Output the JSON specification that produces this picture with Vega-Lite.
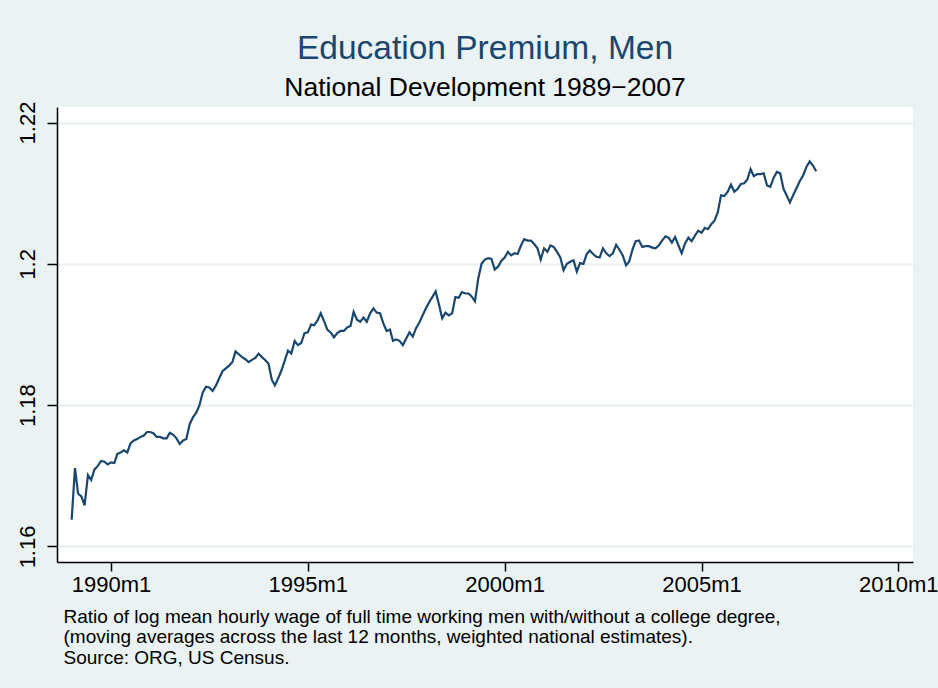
{
  "$schema": "https://vega.github.io/schema/vega-lite/v6.json",
  "width": 856,
  "height": 455,
  "autosize": {"type": "none"},
  "padding": {"left": 57, "top": 107, "right": 25, "bottom": 126},
  "background": "#EAF2F3",
  "config": {
    "view": {"fill": "white", "stroke": null},
    "font": "Liberation Sans"
  },
  "title": {
    "text": "Education Premium, Men",
    "subtitle": "National Development 1989\u22122007",
    "font": "Liberation Sans",
    "subtitleFont": "Liberation Sans",
    "fontSize": 33.5,
    "subtitleFontSize": 26.5,
    "fontWeight": "normal",
    "color": "#1a476f",
    "subtitleColor": "#000000",
    "anchor": "middle",
    "offset": -1,
    "subtitlePadding": 8
  },
  "data": {
    "values": [
      {"date": "1989-01", "value": 1.1638}, {"date": "1989-02", "value": 1.1711}, {"date": "1989-03", "value": 1.1675}, {"date": "1989-04", "value": 1.1671}, {"date": "1989-05", "value": 1.1658}, {"date": "1989-06", "value": 1.1701}, {"date": "1989-07", "value": 1.1694}, {"date": "1989-08", "value": 1.1709}, {"date": "1989-09", "value": 1.1714}, {"date": "1989-10", "value": 1.1721}, {"date": "1989-11", "value": 1.1720}, {"date": "1989-12", "value": 1.1716},
      {"date": "1990-01", "value": 1.1719}, {"date": "1990-02", "value": 1.1718}, {"date": "1990-03", "value": 1.1731}, {"date": "1990-04", "value": 1.1733}, {"date": "1990-05", "value": 1.1736}, {"date": "1990-06", "value": 1.1733}, {"date": "1990-07", "value": 1.1746}, {"date": "1990-08", "value": 1.1750}, {"date": "1990-09", "value": 1.1752}, {"date": "1990-10", "value": 1.1755}, {"date": "1990-11", "value": 1.1757}, {"date": "1990-12", "value": 1.1762},
      {"date": "1991-01", "value": 1.1762}, {"date": "1991-02", "value": 1.1760}, {"date": "1991-03", "value": 1.1755}, {"date": "1991-04", "value": 1.1755}, {"date": "1991-05", "value": 1.1753}, {"date": "1991-06", "value": 1.1753}, {"date": "1991-07", "value": 1.1761}, {"date": "1991-08", "value": 1.1758}, {"date": "1991-09", "value": 1.1753}, {"date": "1991-10", "value": 1.1745}, {"date": "1991-11", "value": 1.1750}, {"date": "1991-12", "value": 1.1752},
      {"date": "1992-01", "value": 1.1773}, {"date": "1992-02", "value": 1.1783}, {"date": "1992-03", "value": 1.1789}, {"date": "1992-04", "value": 1.1800}, {"date": "1992-05", "value": 1.1818}, {"date": "1992-06", "value": 1.1826}, {"date": "1992-07", "value": 1.1825}, {"date": "1992-08", "value": 1.1820}, {"date": "1992-09", "value": 1.1828}, {"date": "1992-10", "value": 1.1838}, {"date": "1992-11", "value": 1.1848}, {"date": "1992-12", "value": 1.1852},
      {"date": "1993-01", "value": 1.1856}, {"date": "1993-02", "value": 1.1861}, {"date": "1993-03", "value": 1.1876}, {"date": "1993-04", "value": 1.1872}, {"date": "1993-05", "value": 1.1868}, {"date": "1993-06", "value": 1.1865}, {"date": "1993-07", "value": 1.1861}, {"date": "1993-08", "value": 1.1864}, {"date": "1993-09", "value": 1.1867}, {"date": "1993-10", "value": 1.1873}, {"date": "1993-11", "value": 1.1868}, {"date": "1993-12", "value": 1.1864},
      {"date": "1994-01", "value": 1.1859}, {"date": "1994-02", "value": 1.1836}, {"date": "1994-03", "value": 1.1828}, {"date": "1994-04", "value": 1.1838}, {"date": "1994-05", "value": 1.1849}, {"date": "1994-06", "value": 1.1863}, {"date": "1994-07", "value": 1.1877}, {"date": "1994-08", "value": 1.1873}, {"date": "1994-09", "value": 1.1891}, {"date": "1994-10", "value": 1.1885}, {"date": "1994-11", "value": 1.1888}, {"date": "1994-12", "value": 1.1902},
      {"date": "1995-01", "value": 1.1903}, {"date": "1995-02", "value": 1.1914}, {"date": "1995-03", "value": 1.1913}, {"date": "1995-04", "value": 1.1920}, {"date": "1995-05", "value": 1.1930}, {"date": "1995-06", "value": 1.1919}, {"date": "1995-07", "value": 1.1907}, {"date": "1995-08", "value": 1.1903}, {"date": "1995-09", "value": 1.1896}, {"date": "1995-10", "value": 1.1902}, {"date": "1995-11", "value": 1.1905}, {"date": "1995-12", "value": 1.1905},
      {"date": "1996-01", "value": 1.1910}, {"date": "1996-02", "value": 1.1912}, {"date": "1996-03", "value": 1.1932}, {"date": "1996-04", "value": 1.1921}, {"date": "1996-05", "value": 1.1918}, {"date": "1996-06", "value": 1.1924}, {"date": "1996-07", "value": 1.1918}, {"date": "1996-08", "value": 1.1930}, {"date": "1996-09", "value": 1.1937}, {"date": "1996-10", "value": 1.1931}, {"date": "1996-11", "value": 1.1930}, {"date": "1996-12", "value": 1.1916},
      {"date": "1997-01", "value": 1.1905}, {"date": "1997-02", "value": 1.1907}, {"date": "1997-03", "value": 1.1891}, {"date": "1997-04", "value": 1.1893}, {"date": "1997-05", "value": 1.1891}, {"date": "1997-06", "value": 1.1885}, {"date": "1997-07", "value": 1.1894}, {"date": "1997-08", "value": 1.1903}, {"date": "1997-09", "value": 1.1897}, {"date": "1997-10", "value": 1.1909}, {"date": "1997-11", "value": 1.1917}, {"date": "1997-12", "value": 1.1927},
      {"date": "1998-01", "value": 1.1937}, {"date": "1998-02", "value": 1.1946}, {"date": "1998-03", "value": 1.1953}, {"date": "1998-04", "value": 1.1961}, {"date": "1998-05", "value": 1.1943}, {"date": "1998-06", "value": 1.1923}, {"date": "1998-07", "value": 1.1931}, {"date": "1998-08", "value": 1.1927}, {"date": "1998-09", "value": 1.1930}, {"date": "1998-10", "value": 1.1953}, {"date": "1998-11", "value": 1.1952}, {"date": "1998-12", "value": 1.1960},
      {"date": "1999-01", "value": 1.1958}, {"date": "1999-02", "value": 1.1958}, {"date": "1999-03", "value": 1.1954}, {"date": "1999-04", "value": 1.1947}, {"date": "1999-05", "value": 1.1979}, {"date": "1999-06", "value": 1.2000}, {"date": "1999-07", "value": 1.2006}, {"date": "1999-08", "value": 1.2008}, {"date": "1999-09", "value": 1.2007}, {"date": "1999-10", "value": 1.1992}, {"date": "1999-11", "value": 1.1996}, {"date": "1999-12", "value": 1.2004},
      {"date": "2000-01", "value": 1.2009}, {"date": "2000-02", "value": 1.2017}, {"date": "2000-03", "value": 1.2012}, {"date": "2000-04", "value": 1.2015}, {"date": "2000-05", "value": 1.2014}, {"date": "2000-06", "value": 1.2026}, {"date": "2000-07", "value": 1.2035}, {"date": "2000-08", "value": 1.2033}, {"date": "2000-09", "value": 1.2033}, {"date": "2000-10", "value": 1.2028}, {"date": "2000-11", "value": 1.2022}, {"date": "2000-12", "value": 1.2006},
      {"date": "2001-01", "value": 1.2022}, {"date": "2001-02", "value": 1.2017}, {"date": "2001-03", "value": 1.2026}, {"date": "2001-04", "value": 1.2024}, {"date": "2001-05", "value": 1.2017}, {"date": "2001-06", "value": 1.2009}, {"date": "2001-07", "value": 1.1991}, {"date": "2001-08", "value": 1.2000}, {"date": "2001-09", "value": 1.2003}, {"date": "2001-10", "value": 1.2005}, {"date": "2001-11", "value": 1.1989}, {"date": "2001-12", "value": 1.2001},
      {"date": "2002-01", "value": 1.2000}, {"date": "2002-02", "value": 1.2014}, {"date": "2002-03", "value": 1.2019}, {"date": "2002-04", "value": 1.2014}, {"date": "2002-05", "value": 1.2010}, {"date": "2002-06", "value": 1.2009}, {"date": "2002-07", "value": 1.2022}, {"date": "2002-08", "value": 1.2015}, {"date": "2002-09", "value": 1.2011}, {"date": "2002-10", "value": 1.2015}, {"date": "2002-11", "value": 1.2027}, {"date": "2002-12", "value": 1.2020},
      {"date": "2003-01", "value": 1.2012}, {"date": "2003-02", "value": 1.1998}, {"date": "2003-03", "value": 1.2003}, {"date": "2003-04", "value": 1.2020}, {"date": "2003-05", "value": 1.2032}, {"date": "2003-06", "value": 1.2033}, {"date": "2003-07", "value": 1.2024}, {"date": "2003-08", "value": 1.2025}, {"date": "2003-09", "value": 1.2025}, {"date": "2003-10", "value": 1.2023}, {"date": "2003-11", "value": 1.2022}, {"date": "2003-12", "value": 1.2026},
      {"date": "2004-01", "value": 1.2033}, {"date": "2004-02", "value": 1.2039}, {"date": "2004-03", "value": 1.2037}, {"date": "2004-04", "value": 1.2030}, {"date": "2004-05", "value": 1.2038}, {"date": "2004-06", "value": 1.2026}, {"date": "2004-07", "value": 1.2015}, {"date": "2004-08", "value": 1.2029}, {"date": "2004-09", "value": 1.2037}, {"date": "2004-10", "value": 1.2032}, {"date": "2004-11", "value": 1.2040}, {"date": "2004-12", "value": 1.2047},
      {"date": "2005-01", "value": 1.2044}, {"date": "2005-02", "value": 1.2051}, {"date": "2005-03", "value": 1.2049}, {"date": "2005-04", "value": 1.2056}, {"date": "2005-05", "value": 1.2061}, {"date": "2005-06", "value": 1.2073}, {"date": "2005-07", "value": 1.2097}, {"date": "2005-08", "value": 1.2096}, {"date": "2005-09", "value": 1.2102}, {"date": "2005-10", "value": 1.2112}, {"date": "2005-11", "value": 1.2102}, {"date": "2005-12", "value": 1.2106},
      {"date": "2006-01", "value": 1.2113}, {"date": "2006-02", "value": 1.2114}, {"date": "2006-03", "value": 1.2119}, {"date": "2006-04", "value": 1.2134}, {"date": "2006-05", "value": 1.2124}, {"date": "2006-06", "value": 1.2127}, {"date": "2006-07", "value": 1.2127}, {"date": "2006-08", "value": 1.2128}, {"date": "2006-09", "value": 1.2111}, {"date": "2006-10", "value": 1.2109}, {"date": "2006-11", "value": 1.2122}, {"date": "2006-12", "value": 1.2130},
      {"date": "2007-01", "value": 1.2128}, {"date": "2007-02", "value": 1.2106}, {"date": "2007-03", "value": 1.2097}, {"date": "2007-04", "value": 1.2087}, {"date": "2007-05", "value": 1.2097}, {"date": "2007-06", "value": 1.2107}, {"date": "2007-07", "value": 1.2117}, {"date": "2007-08", "value": 1.2125}, {"date": "2007-09", "value": 1.2137}, {"date": "2007-10", "value": 1.2145}, {"date": "2007-11", "value": 1.2139}, {"date": "2007-12", "value": 1.2131}
    ]
  },
  "mark": {"type": "line", "color": "#1a476f", "strokeWidth": 2.2},
  "encoding": {
    "x": {
      "field": "date",
      "type": "temporal",
      "scale": {
        "type": "utc",
        "domain": [
          {"year": 1988, "month": 8, "date": 18, "utc": true},
          {"year": 2010, "month": 5, "date": 17, "utc": true}
        ],
        "nice": false
      },
      "axis": {
        "values": [
          {"year": 1990, "month": 1, "date": 1, "utc": true},
          {"year": 1995, "month": 1, "date": 1, "utc": true},
          {"year": 2000, "month": 1, "date": 1, "utc": true},
          {"year": 2005, "month": 1, "date": 1, "utc": true},
          {"year": 2010, "month": 1, "date": 1, "utc": true}
        ],
        "labelExpr": "utcFormat(datum.value, '%Y') + 'm1'",
        "labelFont": "Liberation Sans",
        "labelFontSize": 22,
        "labelColor": "#000000",
        "labelPadding": 3,
        "labelFlush": false,
        "labelOverlap": false,
        "tickSize": 9,
        "tickColor": "#000000",
        "tickWidth": 1.5,
        "domainColor": "#000000",
        "domainWidth": 1.5,
        "grid": false,
        "title": [
          "Ratio of log mean hourly wage of full time working men with/without a college degree,",
          "(moving averages across the last 12 months, weighted national estimates).",
          "Source: ORG, US Census."
        ],
        "titleFont": "Liberation Sans",
        "titleFontSize": 19,
        "titleFontWeight": "normal",
        "titleColor": "#000000",
        "titleAnchor": "start",
        "titleAlign": "left",
        "titleX": 6,
        "titleLineHeight": 20.5,
        "titlePadding": 12
      }
    },
    "y": {
      "field": "value",
      "type": "quantitative",
      "scale": {"domain": [1.1578, 1.2222], "nice": false, "zero": false},
      "axis": {
        "values": [1.16, 1.18, 1.2, 1.22],
        "format": "~g",
        "labelAngle": -90,
        "labelAlign": "center",
        "labelBaseline": "bottom",
        "labelFont": "Liberation Sans",
        "labelFontSize": 22,
        "labelColor": "#000000",
        "labelPadding": 8,
        "tickSize": 10,
        "tickColor": "#000000",
        "tickWidth": 1.5,
        "domainColor": "#000000",
        "domainWidth": 1.5,
        "grid": true,
        "gridColor": "#E8F0F2",
        "gridWidth": 2,
        "title": null
      }
    }
  }
}
